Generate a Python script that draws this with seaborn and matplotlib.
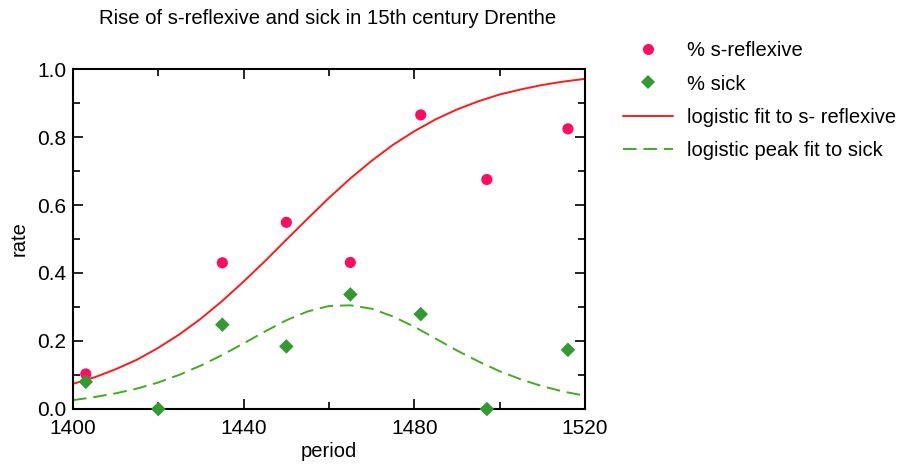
import matplotlib
matplotlib.use("Agg")
import matplotlib.pyplot as plt
from matplotlib.ticker import MultipleLocator
from matplotlib.lines import Line2D
import seaborn as sns
import pandas as pd

# observed data
periods = [1403, 1420, 1435, 1450, 1465, 1481.5, 1497, 1516]
s_reflexive = [0.103, None, 0.430, 0.549, 0.431, 0.865, 0.675, 0.824]
sick = [0.080, 0.0, 0.248, 0.184, 0.337, 0.279, 0.0, 0.174]

# fitted curves (every 5 years)
fit_years = [1400, 1405, 1410, 1415, 1420, 1425, 1430, 1435, 1440, 1445, 1450, 1455,
             1460, 1465, 1470, 1475, 1480, 1485, 1490, 1495, 1500, 1505, 1510, 1515, 1520]
fit_reflexive = [0.074, 0.093, 0.117, 0.145, 0.180, 0.220, 0.266, 0.318, 0.375, 0.435,
                 0.498, 0.560, 0.621, 0.678, 0.730, 0.777, 0.817, 0.852, 0.881, 0.905,
                 0.925, 0.940, 0.953, 0.963, 0.971]
fit_sick = [0.026, 0.035, 0.046, 0.060, 0.078, 0.101, 0.128, 0.159, 0.193, 0.228,
            0.261, 0.287, 0.303, 0.305, 0.295, 0.272, 0.242, 0.207, 0.172, 0.140,
            0.111, 0.087, 0.067, 0.051, 0.039]

x_ticks = [1400, 1440, 1480, 1520]
y_ticks = [0.0, 0.2, 0.4, 0.6, 0.8, 1.0]

sns.set_style("ticks")
plt.rcParams['font.family'] = ['Liberation Sans', 'DejaVu Sans']
plt.rcParams['text.color'] = 'black'
plt.rcParams['axes.labelcolor'] = 'black'

fig = plt.figure(figsize=(8.99, 4.65), dpi=100)
ax = fig.add_axes([73/899, 1 - 409/465, 512/899, 340/465])

df_pts = pd.DataFrame({"period": periods, "refl": s_reflexive, "sick": sick})
df_fit = pd.DataFrame({"year": fit_years, "refl": fit_reflexive, "sick": fit_sick})

c_pink = "#ff0d62"
c_green = "#339933"
c_red = "#ff1a1a"
c_gdash = "#44aa22"
dash = (0, (7, 3.5))

sns.lineplot(data=df_fit, x="year", y="refl", ax=ax, color=c_red, lw=1.4, zorder=2)
sns.lineplot(data=df_fit, x="year", y="sick", ax=ax, color=c_gdash, lw=1.4,
             zorder=2, linestyle=dash)
sns.scatterplot(data=df_pts.dropna(subset=["refl"]), x="period", y="refl", ax=ax,
                color=c_pink, marker="o", s=65, edgecolor="none", zorder=3, clip_on=False)
sns.scatterplot(data=df_pts, x="period", y="sick", ax=ax, color=c_green, marker="D",
                s=55, edgecolor="none", zorder=3, clip_on=False)

ax.set_xlim(1400, 1520)
ax.set_ylim(0, 1.0)
ax.set_xticks(x_ticks)
ax.set_xticklabels([str(v) for v in x_ticks])
ax.set_yticks(y_ticks)
ax.set_yticklabels([f"{v:.1f}" for v in y_ticks])
ax.xaxis.set_minor_locator(MultipleLocator(20))
ax.yaxis.set_minor_locator(MultipleLocator(0.1))
ax.tick_params(which="both", direction="in", top=True, right=True, width=1.2,
               colors="black", labelcolor="black", labelsize=15)
ax.tick_params(axis="x", which="both", pad=7)
ax.tick_params(axis="y", which="both", pad=5)
ax.tick_params(which="major", length=7)
ax.tick_params(which="minor", length=5)
for sp in ax.spines.values():
    sp.set_linewidth(1.5)
    sp.set_color("black")
    sp.set_visible(True)

ax.set_xlabel("period", fontsize=14.5, labelpad=3)
ax.set_ylabel("rate", fontsize=14.5, labelpad=6)

fig.text(328/899, 1 - 19/465, "Rise of s-reflexive and sick in 15th century Drenthe",
         ha="center", va="center", fontsize=14.6)

handles = [
    Line2D([], [], color=c_pink, marker="o", linestyle="none", markersize=8, markeredgewidth=0),
    Line2D([], [], color=c_green, marker="D", linestyle="none", markersize=7, markeredgewidth=0),
    Line2D([], [], color=c_red, lw=1.4),
    Line2D([], [], color=c_gdash, lw=1.4, linestyle=dash),
]
labels = ["% s-reflexive", "% sick", "logistic fit to s- reflexive",
          "logistic peak fit to sick"]
fig.legend(handles, labels, loc="upper left", bbox_to_anchor=(623/899, 1 - 41/465),
           frameon=False, fontsize=14.5, handlelength=2.5, handletextpad=0.7,
           labelspacing=0.72, borderaxespad=0, borderpad=0)

fig.savefig("out.png", dpi=100)
